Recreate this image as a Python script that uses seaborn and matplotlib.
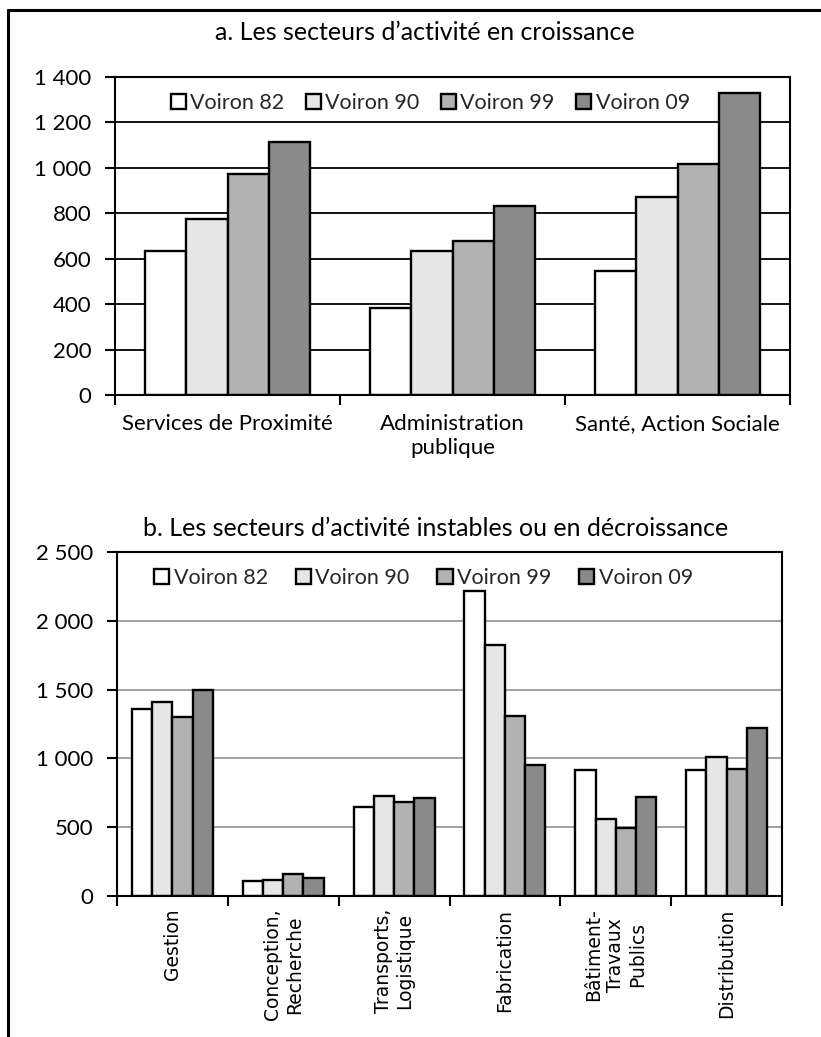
import numpy as np
import pandas as pd
import matplotlib
matplotlib.use("Agg")
import matplotlib.pyplot as plt
from matplotlib.lines import Line2D
from matplotlib.ticker import FuncFormatter, MultipleLocator, FixedLocator
import seaborn as sns

# ---------------- data ----------------
series = ["Voiron 82", "Voiron 90", "Voiron 99", "Voiron 09"]
colors = ["#ffffff", "#e6e6e6", "#b2b2b2", "#8a8a8a"]

cats_a = ["Services de Proximité", "Administration\npublique", "Santé, Action Sociale"]
v82_a = [635, 385, 545]
v90_a = [775, 635, 873]
v99_a = [975, 678, 1016]
v09_a = [1115, 830, 1330]

cats_b = ["Gestion", "Conception,\nRecherche", "Transports,\nLogistique",
          "Fabrication", "Bâtiment-\nTravaux\nPublics", "Distribution"]
v82_b = [1360, 108, 645, 2220, 917, 917]
v90_b = [1410, 117, 725, 1825, 560, 1009]
v99_b = [1300, 157, 684, 1308, 493, 922]
v09_b = [1495, 131, 711, 953, 716, 1220]

title_a = "a. Les secteurs d’activité en croissance"
title_b = "b. Les secteurs d’activité instables ou en décroissance"


def long_df(cats, vals):
    rows = []
    for s, vs in zip(series, vals):
        for c, v in zip(cats, vs):
            rows.append({"secteur": c, "serie": s, "valeur": v})
    return pd.DataFrame(rows)


df_a = long_df(cats_a, [v82_a, v90_a, v99_a, v09_a])
df_b = long_df(cats_b, [v82_b, v90_b, v99_b, v09_b])

sns.set_theme(style="white")
plt.rcParams["font.family"] = ["Lato", "DejaVu Sans"]

W, H = 821, 1037
fig = plt.figure(figsize=(W / 100, H / 100), dpi=100)


def frac_box(l, t, r, b):
    return [l / W, 1 - b / H, (r - l) / W, (b - t) / H]


fmt = FuncFormatter(lambda v, p: f"{int(v):,}".replace(",", " "))
pal = dict(zip(series, colors))


def draw(ax, df, cats, ymax, step, grid_color, label_rot, label_font, label_size,
         pad, leg_x, leg_colsp):
    sns.barplot(data=df, x="secteur", y="valeur", hue="serie", order=cats,
                hue_order=series, palette=pal, width=0.73, edgecolor="black",
                linewidth=1.7, saturation=1, ax=ax, errorbar=None)
    ax.set_xlim(-0.5, len(cats) - 0.5)
    ax.set_ylim(0, ymax)
    ax.yaxis.set_major_locator(MultipleLocator(step))
    ax.yaxis.set_major_formatter(fmt)
    ax.set_axisbelow(True)
    ax.grid(axis="y", color=grid_color, linewidth=1.3)
    ax.grid(axis="x", visible=False)
    ax.set_xlabel("")
    ax.set_ylabel("")
    for sp in ax.spines.values():
        sp.set_color("black")
        sp.set_linewidth(1.5)
    ax.tick_params(axis="y", which="major", left=True, length=7, width=1.5,
                   direction="out", labelsize=16, pad=10, colors="black")
    ax.xaxis.set_minor_locator(FixedLocator(np.arange(-0.5, len(cats), 1.0)))
    ax.tick_params(axis="x", which="minor", bottom=True, length=7, width=1.5,
                   direction="out", color="black")
    ax.tick_params(axis="x", which="major", bottom=True, length=0, pad=pad)
    ax.set_xticks(range(len(cats)))
    ax.set_xticklabels(cats, rotation=label_rot, fontfamily=label_font,
                       fontsize=label_size, color="black", ha="center",
                       va="top", multialignment="center")
    for lab in ax.get_yticklabels():
        lab.set_color("black")
    leg = ax.legend(loc="upper center", bbox_to_anchor=(leg_x, 0.99), ncol=4,
                    frameon=False, fontsize=15.5, handlelength=0.7,
                    handleheight=0.7, handletextpad=0.2, columnspacing=leg_colsp,
                    borderaxespad=0.2)
    for h in leg.legend_handles:
        h.set_edgecolor("black")
        h.set_linewidth(1.7)


ax_a = fig.add_axes(frac_box(115, 77, 790, 395))
draw(ax_a, df_a, cats_a, 1400, 200, "black", 0, ["Lato", "DejaVu Sans"], 16, 14,
     0.467, 1.0)

ax_b = fig.add_axes(frac_box(117, 552, 782, 896))
draw(ax_b, df_b, cats_b, 2500, 500, "#9a9a9a", 90, ["DejaVu Sans"], 13.5, 9,
     0.461, 1.3)

fig.text(425 / W, 1 - 33 / H, title_a, ha="center", va="center", fontsize=18,
         color="black")
fig.text(436 / W, 1 - 528 / H, title_b, ha="center", va="center", fontsize=18,
         color="black")

# outer frame (top and left edges)
fig.add_artist(Line2D([8 / W, 1], [1 - 10 / H, 1 - 10 / H], transform=fig.transFigure,
                      color="black", linewidth=2.2))
fig.add_artist(Line2D([8 / W, 8 / W], [0, 1 - 10 / H], transform=fig.transFigure,
                      color="black", linewidth=2.2))

fig.savefig("out.png", dpi=100, facecolor="white")
